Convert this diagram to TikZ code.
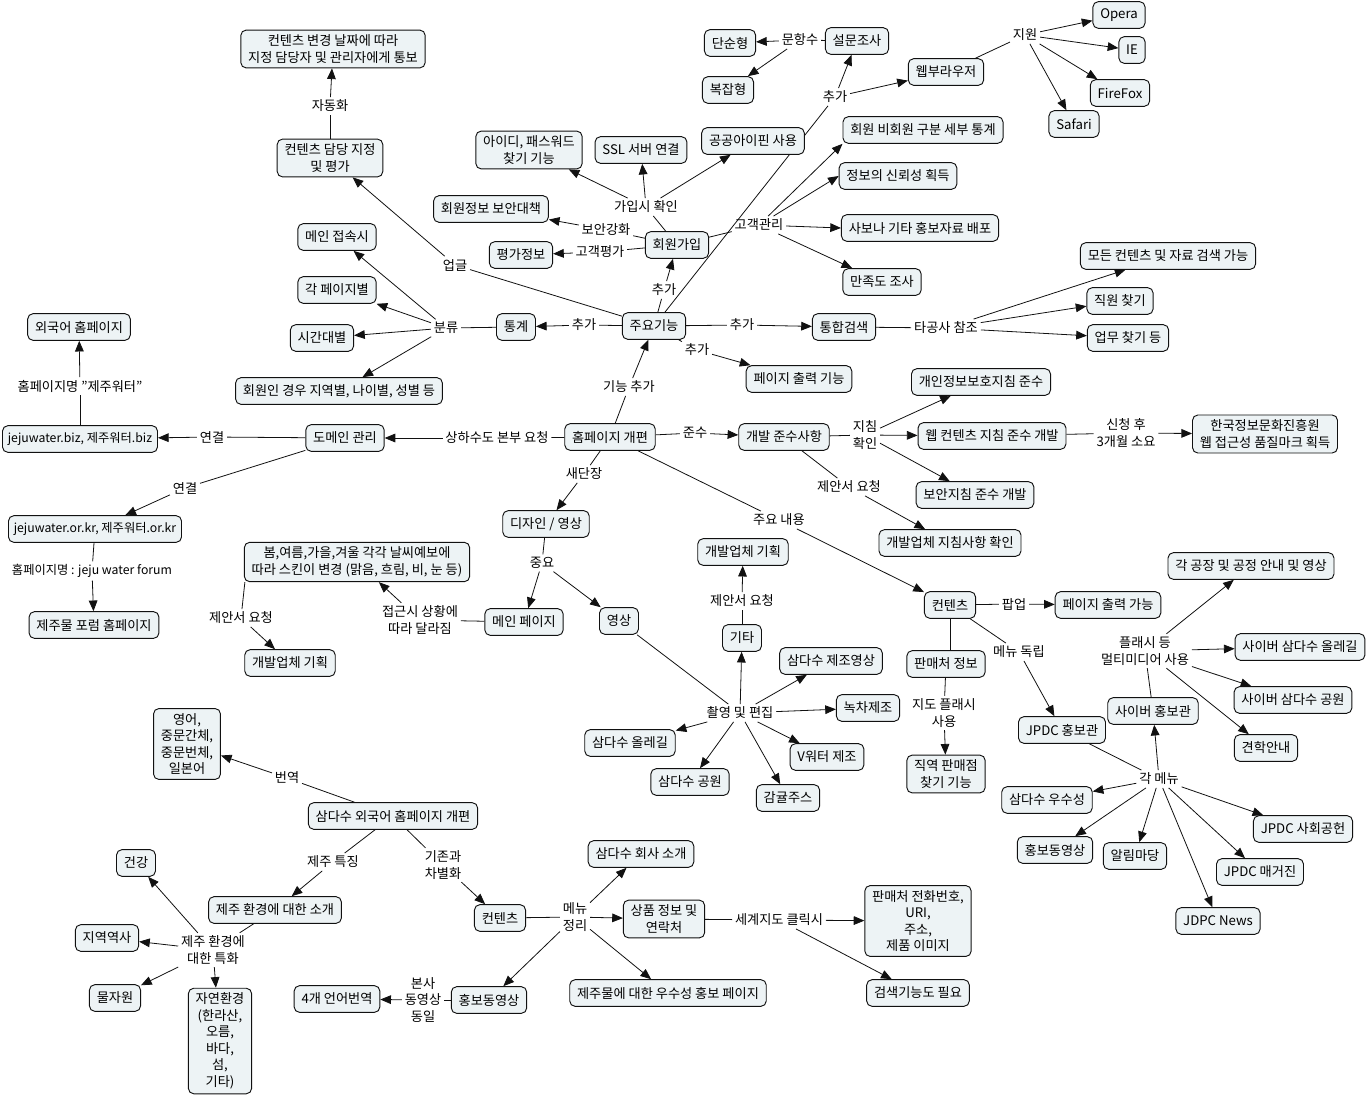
\documentclass[tikz,border=0pt]{standalone}
\usepackage{fontspec}
\setmainfont{Noto Sans CJK KR}
\usepackage{tikz}
\usetikzlibrary{arrows.meta,backgrounds}
\usepackage{xcolor}
\definecolor{cmfill}{HTML}{EDF3F5}
\definecolor{cmline}{HTML}{111111}

\begin{document}
\begin{tikzpicture}[
  x=0.75pt, y=-0.75pt,
  font=\fontsize{9.9}{12.4}\selectfont,
  box/.style={draw=cmline, line width=0.7pt, rounded corners=4pt, fill=cmfill, align=center, inner xsep=5.5pt, inner ysep=3.5pt, minimum height=20pt},
  latin/.style={font=\fontsize{9.2}{12.4}\selectfont, inner xsep=4pt},
  lbl/.style={align=center, inner sep=2pt},
  link/.style={draw=cmline, line width=0.6pt},
  arrow/.style={-{Triangle[length=8pt,width=6.5pt]}, draw=cmline, line width=0.6pt}
]
\useasboundingbox (0,0) rectangle (1368,1096);

\node[box] (nt) at (333,49) {컨텐츠 변경 날짜에 따라\\지정 담당자 및 관리자에게 통보};
\node[box] (as) at (330,158) {컨텐츠 담당 지정\\및 평가};
\node[box] (mj) at (337,237) {메인 접속시};
\node[box] (pg) at (337,290) {각 페이지별};
\node[box] (tm) at (322,338) {시간대별};
\node[box] (mb) at (339,391) {회원인 경우 지역별, 나이별, 성별 등};
\node[box] (fh) at (79,327) {외국어 홈페이지};
\node[box, latin] (bz) at (80,439) {jejuwater.biz, 제주워터.biz};
\node[box] (dm) at (345,438) {도메인 관리};
\node[box, latin] (kr) at (95,529) {jejuwater.or.kr, 제주워터.or.kr};
\node[box] (fr) at (94,625) {제주물 포럼 홈페이지};
\node[box] (sk) at (357,562) {봄,여름,가을,겨울 각각 날씨예보에\\따라 스킨이 변경 (맑음, 흐림, 비, 눈 등)};
\node[box] (pl1) at (290,663) {개발업체 기획};
\node[box] (mp) at (524,622) {메인 페이지};
\node[box] (vd) at (619,621) {영상};
\node[box] (ds) at (546,524) {디자인 / 영상};
\node[box] (hp) at (610,437) {홈페이지 개편};
\node[box] (dv) at (784,437) {개발 준수사항};
\node[box] (pl2) at (743,552) {개발업체 기획};
\node[box] (etc) at (742,638) {기타};
\node[box] (mv) at (831,661) {삼다수 제조영상};
\node[box] (gt) at (868,708) {녹차제조};
\node[box] (pr1) at (799,379) {페이지 출력 기능};
\node[box] (pi) at (981,382) {개인정보보호지침 준수};
\node[box] (wc) at (992,436) {웹 컨텐츠 지침 준수 개발};
\node[box] (sc) at (975,495) {보안지침 준수 개발};
\node[box] (ck) at (950,543) {개발업체 지침사항 확인};
\node[box] (qm) at (1265,434) {한국정보문화진흥원\\웹 접근성 품질마크 획득};
\node[box] (ct1) at (950,605) {컨텐츠};
\node[box] (pr2) at (1108,605) {페이지 출력 가능};
\node[box] (sh) at (946,664) {판매처 정보};
\node[box] (fc) at (1251,566) {각 공장 및 공정 안내 및 영상};
\node[box] (co) at (1300,647) {사이버 삼다수 올레길};
\node[box] (cp) at (1293,700) {사이버 삼다수 공원};
\node[box] (cy) at (1153,711) {사이버 홍보관};
\node[box] (jh) at (1062,730) {JPDC 홍보관};
\node[box] (tr) at (1266,748) {견학안내};
\node[box] (sf) at (946,774) {직역 판매점\\찾기 기능};
\node[box] (ex) at (1047,800) {삼다수 우수성};
\node[box] (pv1) at (1055,850) {홍보동영상};
\node[box] (nb) at (1135,856) {알림마당};
\node[box] (sr) at (1303,829) {JPDC 사회공헌};
\node[box] (mg) at (1260,872) {JPDC 매거진};
\node[box] (nw) at (1218,921) {JDPC News};
\node[box] (ph) at (918,921) {판매처 전화번호,\\URI,\\주소,\\제품 이미지};
\node[box] (sn) at (918,993) {검색기능도 필요};
\node[box] (ol) at (630,743) {삼다수 올레길};
\node[box] (pk) at (690,782) {삼다수 공원};
\node[box] (oj) at (788,798) {감귤주스};
\node[box] (vw) at (827,757) {V워터 제조};
\node[box] (ci) at (641,854) {삼다수 회사 소개};
\node[box] (ct2) at (500,918) {컨텐츠};
\node[box] (gd) at (664,919) {상품 정보 및\\연락처};
\node[box] (ad) at (668,993) {제주물에 대한 우수성 홍보 페이지};
\node[box] (pv2) at (489,1000) {홍보동영상};
\node[box] (tl) at (337,999) {4개 언어번역};
\node[box] (fg) at (393,816) {삼다수 외국어 홈페이지 개편};
\node[box] (lg) at (187,744) {영어,\\중문간체,\\중문번체,\\일본어};
\node[box] (je) at (275,910) {제주 환경에 대한 소개};
\node[box] (hl) at (136,863) {건강};
\node[box] (hs) at (107,938) {지역역사};
\node[box] (wr) at (115,998) {물자원};
\node[box] (ne) at (220,1041) {자연환경\\(한라산,\\오름,\\바다,\\섬,\\기타)};
\node[box] (idp) at (529,150) {아이디, 패스워드\\찾기 기능};
\node[box] (ssl) at (641,150) {SSL 서버 연결};
\node[box] (ipn) at (753,141) {공공아이핀 사용};
\node[box] (sec) at (491,209) {회원정보 보안대책};
\node[box] (ev) at (521,255) {평가정보};
\node[box] (jn) at (677,245) {회원가입};
\node[box] (kf) at (654,326) {주요기능};
\node[box] (st) at (516,327) {통계};
\node[box] (srch) at (844,327) {통합검색};
\node[box] (sm) at (730,43) {단순형};
\node[box] (cx) at (728,90) {복잡형};
\node[box] (sv) at (857,41) {설문조사};
\node[box] (wb) at (946,72) {웹부라우저};
\node[box] (ms) at (923,130) {회원 비회원 구분 세부 통계};
\node[box] (tc) at (898,176) {정보의 신뢰성 획득};
\node[box] (bp) at (920,228) {사보나 기타 홍보자료 배포};
\node[box] (sa) at (882,282) {만족도 조사};
\node[box] (op) at (1119,15) {Opera};
\node[box] (ie) at (1132,50) {IE};
\node[box] (ff) at (1120,93) {FireFox};
\node[box] (sfr) at (1074,124) {Safari};
\node[box] (ac) at (1168,256) {모든 컨텐츠 및 자료 검색 가능};
\node[box] (sp) at (1120,301) {직원 찾기};
\node[box] (wk) at (1128,338) {업무 찾기 등};

\node[lbl] (l1) at (330,106) {자동화};
\node[lbl] (l2) at (455,265) {업글};
\node[lbl] (l3) at (446,328) {분류};
\node[lbl] (l4) at (584,325) {추가};
\node[lbl] (l5) at (664,290) {추가};
\node[lbl] (l6) at (742,325) {추가};
\node[lbl] (l7) at (697,350) {추가};
\node[lbl] (l8) at (835,97) {추가};
\node[lbl] (l9) at (800,40) {문항수};
\node[lbl] (l10) at (1025,35) {지원};
\node[lbl] (l11) at (646,207) {가입시 확인};
\node[lbl] (l12) at (606,230) {보안강화};
\node[lbl] (l13) at (600,252) {고객평가};
\node[lbl] (l14) at (759,225) {고객관리};
\node[lbl] (l15) at (946,328) {타공사 참조};
\node[lbl] (l16) at (629,387) {기능 추가};
\node[lbl] (l17) at (497,438) {상하수도 본부 요청};
\node[lbl] (l18) at (212,437) {연결};
\node[lbl] (l19) at (80,386) {홈페이지명 "제주워터"};
\node[lbl] (l20) at (185,488) {연결};
\node[lbl, latin] (l21) at (92,571) {홈페이지명 : jeju water forum};
\node[lbl] (l22) at (695,433) {준수};
\node[lbl] (l23) at (865,435) {지침\\확인};
\node[lbl] (l24) at (1126,433) {신청 후\\3개월 소요};
\node[lbl] (l25) at (849,487) {제안서 요청};
\node[lbl] (l26) at (584,474) {새단장};
\node[lbl] (l27) at (779,520) {주요 내용};
\node[lbl] (l28) at (542,563) {중요};
\node[lbl] (l29) at (420,620) {접근시 상황에\\따라 달라짐};
\node[lbl] (l30) at (241,618) {제안서 요청};
\node[lbl] (l31) at (742,601) {제안서 요청};
\node[lbl] (l32) at (740,713) {촬영 및 편집};
\node[lbl] (l33) at (1014,604) {팝업};
\node[lbl] (l34) at (1019,652) {메뉴 독립};
\node[lbl] (l35) at (944,713) {지도 플래시\\사용};
\node[lbl] (l36) at (1145,651) {플래시 등\\멀티미디어 사용};
\node[lbl] (l37) at (1159,779) {각 메뉴};
\node[lbl] (l38) at (287,778) {번역};
\node[lbl] (l39) at (333,862) {제주 특징};
\node[lbl] (l40) at (443,865) {기존과\\차별화};
\node[lbl] (l41) at (213,950) {제주 환경에\\대한 특화};
\node[lbl] (l42) at (575,917) {메뉴\\정리};
\node[lbl] (l43) at (423,1000) {본사\\동영상\\동일};
\node[lbl] (l44) at (779,920) {세계지도 클릭시};

\begin{scope}[on background layer]
\draw[link] (as) -- (l1);
\draw[arrow] (l1) -- (nt);
\draw[link] (kf) -- (l2);
\draw[arrow] (l2) -- (as);
\draw[link] (st) -- (l3);
\draw[arrow] (l3) -- (mj);
\draw[arrow] (l3) -- (pg);
\draw[arrow] (l3) -- (tm);
\draw[arrow] (l3) -- (mb);
\draw[link] (kf) -- (l4);
\draw[arrow] (l4) -- (st);
\draw[link] (kf) -- (l5);
\draw[arrow] (l5) -- (jn);
\draw[link] (kf) -- (l6);
\draw[arrow] (l6) -- (srch);
\draw[link] (kf) -- (l7);
\draw[arrow] (l7) -- (pr1);
\draw[link] (kf) -- (l8);
\draw[arrow] (l8) -- (sv);
\draw[arrow] (l8) -- (wb);
\draw[link] (sv) -- (l9);
\draw[arrow] (l9) -- (sm);
\draw[arrow] (l9) -- (cx);
\draw[link] (wb) -- (l10);
\draw[arrow] (l10) -- (op);
\draw[arrow] (l10) -- (ie);
\draw[arrow] (l10) -- (ff);
\draw[arrow] (l10) -- (sfr);
\draw[link] (jn) -- (l11);
\draw[arrow] (l11) -- (idp);
\draw[arrow] (l11) -- (ssl);
\draw[arrow] (l11) -- (ipn);
\draw[link] (jn) -- (l12);
\draw[arrow] (l12) -- (sec);
\draw[link] (jn) -- (l13);
\draw[arrow] (l13) -- (ev);
\draw[link] (jn) -- (l14);
\draw[arrow] (l14) -- (ms.south west);
\draw[arrow] (l14) -- (tc.west);
\draw[arrow] (l14) -- (bp.west);
\draw[arrow] (l14) -- (sa);
\draw[link] (srch) -- (l15);
\draw[arrow] (l15) -- (ac);
\draw[arrow] (l15) -- (sp);
\draw[arrow] (l15) -- (wk);
\draw[link] (hp) -- (l16);
\draw[arrow] (l16) -- (kf);
\draw[link] (hp) -- (l17);
\draw[arrow] (l17) -- (dm);
\draw[link] (dm) -- (l18);
\draw[arrow] (l18) -- (bz);
\draw[link] (bz) -- (l19);
\draw[arrow] (l19) -- (fh);
\draw[link] (dm) -- (l20);
\draw[arrow] (l20) -- (kr);
\draw[link] (kr) -- (l21);
\draw[arrow] (l21) -- (fr);
\draw[link] (hp) -- (l22);
\draw[arrow] (l22) -- (dv);
\draw[link] (dv) -- (l23);
\draw[arrow] (l23) -- (pi);
\draw[arrow] (l23) -- (wc);
\draw[arrow] (l23) -- (sc);
\draw[link] (wc) -- (l24);
\draw[arrow] (l24) -- (qm);
\draw[link] (dv) -- (l25);
\draw[arrow] (l25) -- (ck);
\draw[link] (hp) -- (l26);
\draw[arrow] (l26) -- (ds);
\draw[link] (hp) -- (l27);
\draw[arrow] (l27) -- (ct1);
\draw[link] (ds) -- (l28);
\draw[arrow] (l28) -- (mp);
\draw[arrow] (l28) -- (vd);
\draw[link] (mp) -- (l29);
\draw[arrow] (l29) -- (sk);
\draw[link] (sk.south west) ++(1,0) -- (l30);
\draw[arrow] (l30) -- (pl1);
\draw[link] (etc) -- (l31);
\draw[arrow] (l31) -- (pl2);
\draw[link] (vd) -- (l32);
\draw[arrow] (l32) -- (etc);
\draw[arrow] (l32) -- (mv);
\draw[arrow] (l32) -- (gt);
\draw[arrow] (l32) -- (vw);
\draw[arrow] (l32) -- (oj);
\draw[arrow] (l32) -- (pk);
\draw[arrow] (l32) -- (ol);
\draw[link] (ct1) -- (l33);
\draw[arrow] (l33) -- (pr2);
\draw[link] (ct1.south) -- (sh.north -| ct1.south);
\draw[link] (ct1) -- (l34);
\draw[arrow] (l34) -- (jh);
\draw[link] (sh) -- (l35);
\draw[arrow] (l35) -- (sf);
\draw[link] (cy) -- (l36);
\draw[arrow] (l36) -- (fc);
\draw[arrow] (l36) -- (co);
\draw[arrow] (l36) -- (cp);
\draw[arrow] (l36) -- (tr);
\draw[link] (jh) -- (l37);
\draw[arrow] (l37) -- (cy);
\draw[arrow] (l37) -- (ex);
\draw[arrow] (l37) -- (pv1);
\draw[arrow] (l37) -- (nb);
\draw[arrow] (l37) -- (nw);
\draw[arrow] (l37) -- (mg);
\draw[arrow] (l37) -- (sr);
\draw[link] (fg) -- (l38);
\draw[arrow] (l38) -- (lg);
\draw[link] (fg) -- (l39);
\draw[arrow] (l39) -- (je);
\draw[link] (fg) -- (l40);
\draw[arrow] (l40) -- (ct2);
\draw[link] (je) -- (l41);
\draw[arrow] (l41) -- (hl);
\draw[arrow] (l41) -- (hs);
\draw[arrow] (l41) -- (wr);
\draw[arrow] (l41) -- (ne);
\draw[link] (ct2) -- (l42);
\draw[arrow] (l42) -- (ci);
\draw[arrow] (l42) -- (gd);
\draw[arrow] (l42) -- (ad);
\draw[arrow] (l42) -- (pv2);
\draw[link] (pv2) -- (l43);
\draw[arrow] (l43) -- (tl);
\draw[link] (gd) -- (l44);
\draw[arrow] (l44) -- (ph);
\draw[arrow] (l44) -- (sn);
\end{scope}
\end{tikzpicture}
\end{document}
